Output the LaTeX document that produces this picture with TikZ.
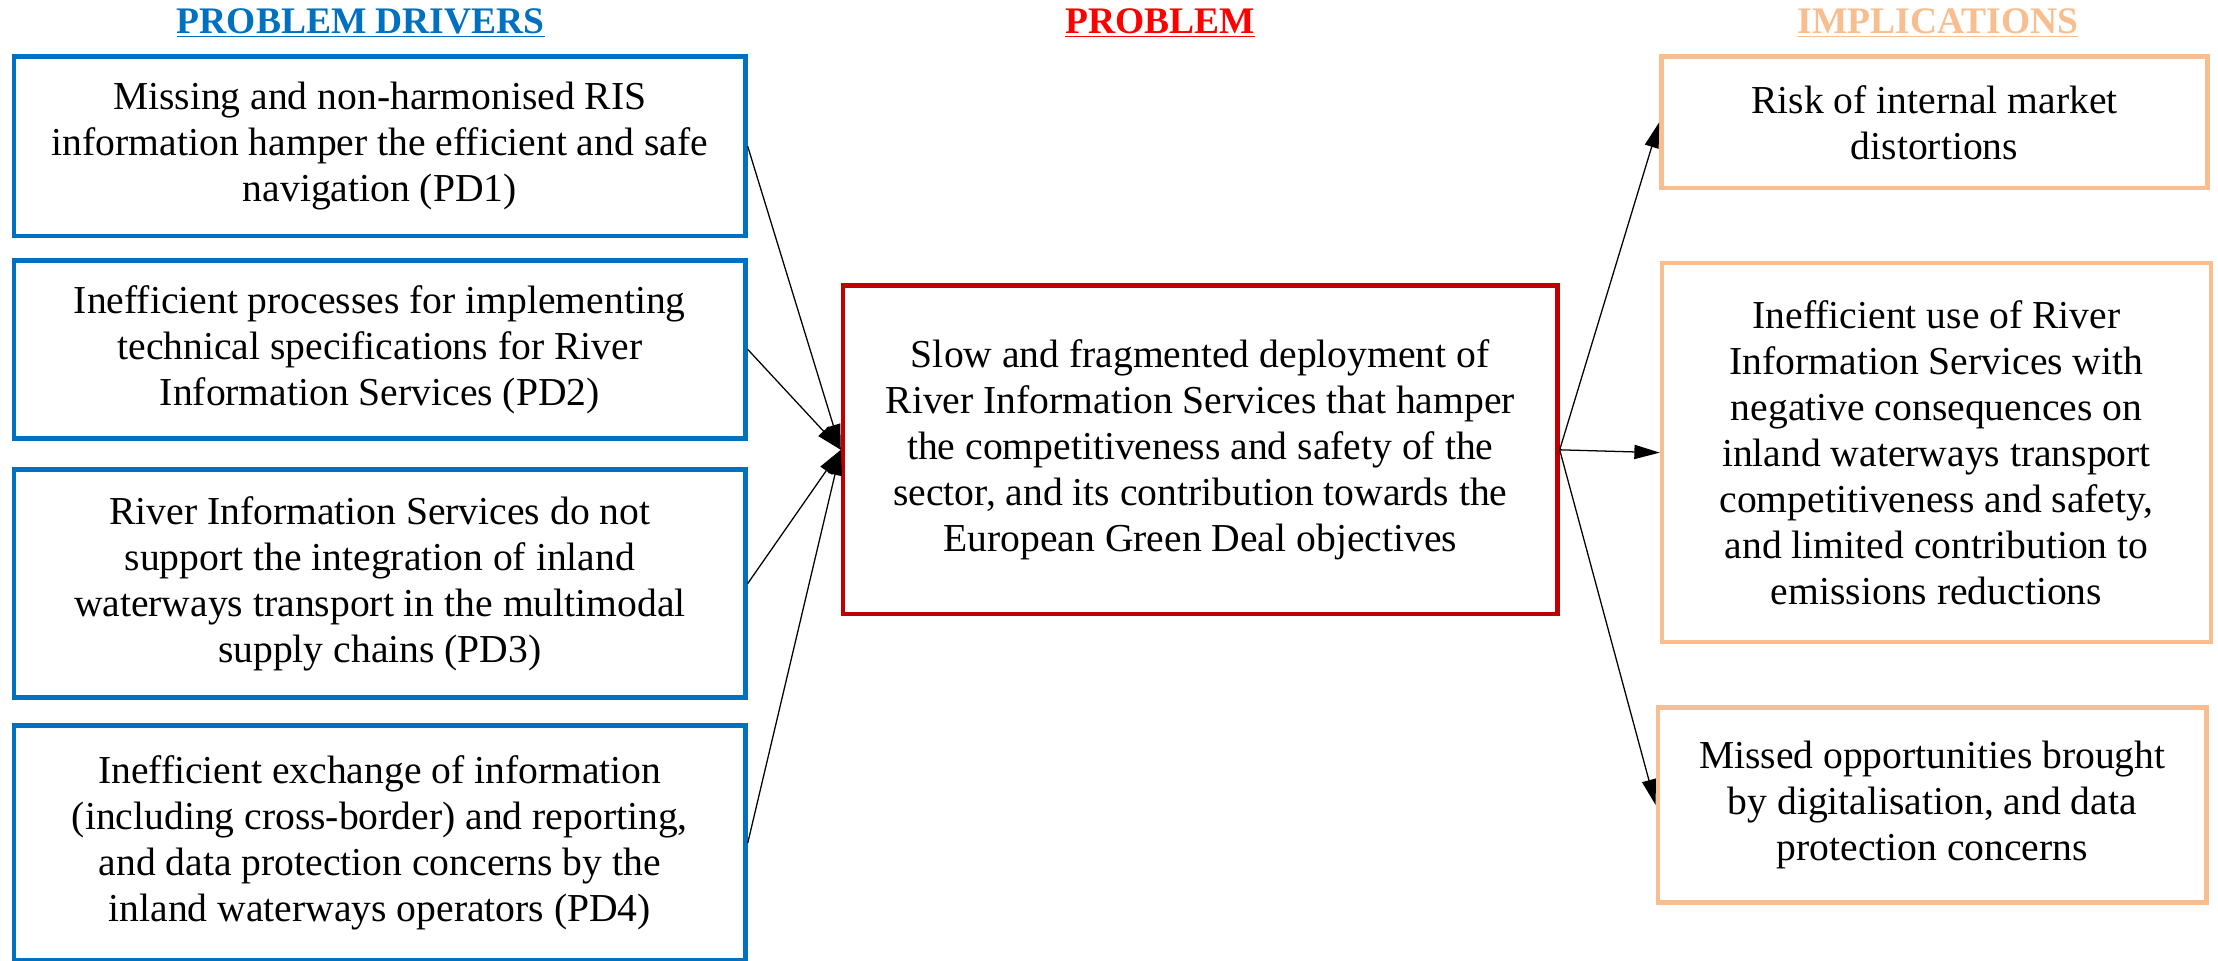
\documentclass[tikz,border=0pt]{standalone}
\usepackage{fontspec}
\setmainfont{Liberation Serif}
\usetikzlibrary{arrows.meta}
\definecolor{pdblue}{HTML}{0070C0}
\definecolor{pbred}{HTML}{C00000}
\definecolor{hdred}{HTML}{FF0000}
\definecolor{imorange}{HTML}{F8BE8F}
\begin{document}
\begin{tikzpicture}[x=1pt,y=-1pt,
  box/.style={draw, line width=3.2pt, rectangle, align=center, inner sep=0pt,
    font=\fontsize{28}{32.5}\selectfont},
  pdbox/.style={box, draw=pdblue},
  pbbox/.style={box, draw=pbred},
  imbox/.style={box, draw=imorange},
  hdr/.style={font=\fontsize{26.5}{30}\selectfont\bfseries, inner sep=0pt},
  arr/.style={draw=black, line width=0.9pt, -{Triangle[length=18pt,width=10pt]}}
]
\useasboundingbox (0,0) rectangle (1568,679);
\fill[white] (0,0) rectangle (1568,679);

\node[hdr, text=pdblue] (h1) at (255,16) {\underline{PROBLEM DRIVERS}};
\node[hdr, text=hdred] (h2) at (820,16) {\underline{PROBLEM}};
\node[hdr, text=imorange] (h3) at (1370,16) {\underline{IMPLICATIONS}};

\node[pdbox, minimum width=517pt, minimum height=127pt] (pd1) at (268.5,103.5)
  {Missing and non-harmonised RIS\\information hamper the efficient and safe\\navigation (PD1)};
\node[pdbox, minimum width=517pt, minimum height=126pt] (pd2) at (268.5,247)
  {Inefficient processes for implementing\\technical specifications for River\\Information Services (PD2)};
\node[pdbox, minimum width=517pt, minimum height=161pt] (pd3) at (268.5,412.5)
  {River Information Services do not\\support the integration of inland\\waterways transport in the multimodal\\supply chains (PD3)};
\node[pdbox, minimum width=517pt, minimum height=166pt] (pd4) at (268.5,596)
  {Inefficient exchange of information\\(including cross-border) and reporting,\\and data protection concerns by the\\inland waterways operators (PD4)};

\node[pbbox, minimum width=505pt, minimum height=232pt] (pb) at (848.5,318)
  {Slow and fragmented deployment of\\River Information Services that hamper\\the competitiveness and safety of the\\sector, and its contribution towards the\\European Green Deal objectives};

\node[imbox, minimum width=386pt, minimum height=93pt] (im1) at (1367.5,86.5)
  {Risk of internal market\\distortions};
\node[imbox, minimum width=388pt, minimum height=268pt] (im2) at (1369,320)
  {Inefficient use of River\\Information Services with\\negative consequences on\\inland waterways transport\\competitiveness and safety,\\and limited contribution to\\emissions reductions};
\node[imbox, minimum width=388pt, minimum height=138pt] (im3) at (1366,569)
  {Missed opportunities brought\\by digitalisation, and data\\protection concerns};

\draw[arr] (pd1.east) -- (pb.west);
\draw[arr] (pd2.east) -- (pb.west);
\draw[arr] (pd3.east) -- (pb.west);
\draw[arr] (pd4.east) -- (pb.west);
\draw[arr] (pb.east) -- (im1.west);
\draw[arr] (pb.east) -- (im2.west);
\draw[arr] (pb.east) -- (im3.west);
\end{tikzpicture}
\end{document}
